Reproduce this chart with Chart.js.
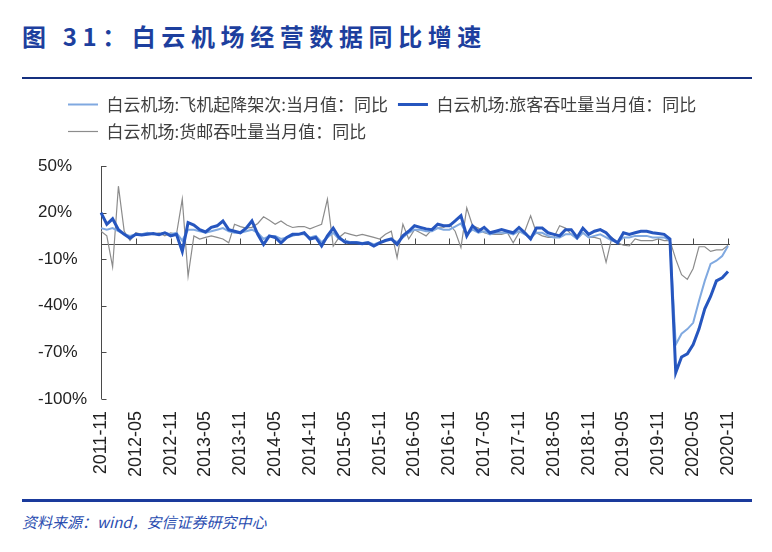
<!DOCTYPE html>
<html>
<head>
<meta charset="utf-8">
<script src="https://cdn.jsdelivr.net/npm/chart.js@4.4.1/dist/chart.umd.min.js"></script>
<style>
  body { margin: 0; background: #fff; width: 772px; height: 552px; position: relative; overflow: hidden; font-family: 'Noto Sans CJK SC', sans-serif; }
  .title { position: absolute; left: 22px; top: 20px; font-size: 24px; font-weight: bold; color: #1d3f9e; letter-spacing: 5.6px; white-space: nowrap; line-height: 32px; }
  .rule-top { position: absolute; left: 22px; top: 77px; width: 730px; height: 2px; background: #15307f; }
  .rule-bottom { position: absolute; left: 22px; top: 499px; width: 730px; height: 3px; background: #1a3a9c; }
  .source { position: absolute; left: 22px; top: 511px; font-size: 15px; font-style: italic; color: #2a4db0; line-height: 22px; white-space: nowrap; }
  #wrap { position: absolute; left: 0; top: 86px; width: 772px; height: 395px; }
</style>
</head>
<body>
<div class="title">图 31：白云机场经营数据同比增速</div>
<div class="rule-top"></div>
<div id="wrap"><canvas id="chart"></canvas></div>
<div class="rule-bottom"></div>
<div class="source">资料来源：wind，安信证券研究中心</div>

<script>
// monthly, 2011-11 .. 2020-11
const months = [];
for (let y = 2011, m = 11; y < 2020 || (y === 2020 && m <= 11); m++) {
  if (m > 12) { m = 1; y++; }
  months.push(y + '-' + String(m).padStart(2, '0'));
}

const seriesNames = [
  '白云机场:飞机起降架次:当月值：同比',
  '白云机场:旅客吞吐量当月值：同比',
  '白云机场:货邮吞吐量当月值：同比'
];

// 飞机起降架次 yoy (%)
const aircraft = [
  10, 9, 10, 8, 6, 5, 6, 6, 7, 6,
  6, 7, 6, 7, 2, 9, 9, 8, 7, 8,
  9, 10, 8, 7, 7, 8, 9, 7, 3, 5,
  5, 3, 4, 5, 6, 6, 4, 5, 1, 4,
  7, 3, 2, 1, 1, 0.5, 1, -0.5, 1, 2,
  3, 1, 4, 7, 9, 9, 8, 8, 10, 9,
  9, 11, 13, 6, 9, 7, 8, 6, 7, 7,
  7, 6, 8, 6, 4, 7, 7, 5, 4, 4,
  6, 6, 3, 7, 4, 5, 6, 4, 2, 1,
  4, 4, 5, 5, 5, 4, 4, 4, 2, -65,
  -58, -55, -51, -37, -24, -13, -11, -8, -1.5
];

// 旅客吞吐量 yoy (%)
const passenger = [
  20, 12.5, 16, 9, 6, 3.5, 6, 5.5, 6, 6.5,
  5.8, 7, 5, 6, -5, 13.5, 12, 9, 7.5, 10.5,
  11.5, 14.6, 9, 8, 7, 10, 14.6, 6, -0.5, 5,
  4, 0.5, 4, 6, 6, 7, 3, 4, -1.5, 5,
  10, 4, 1, 0.5, 0.5, 0, 0.5, -1.5, 0.5, 2,
  3, -0.5, 5, 8, 11.5, 10.5, 9.5, 9, 12.5, 11.5,
  11.5, 14.6, 18, 5, 11.5, 8, 10.5, 7, 8, 9,
  8, 7, 10.4, 7, 3, 10, 10, 7, 6, 5,
  9, 9, 4, 10, 6, 8, 9, 7, 3, 0.5,
  7, 6, 7, 8, 8, 7, 6.5, 6, 3, -83,
  -73, -71, -65, -55, -42, -34, -24, -22, -18
];

// 货邮吞吐量 yoy (%)
const cargo = [
  8, 5, -15, 37, 8, 2, 7, 6, 7, 6,
  7, 5, 7, 6, 28.7, -21, 5, 3, 4, 5,
  4, 3, 0.5, 12.5, 11, 10, 10.5, 13, 17.3, 15,
  12.5, 14.6, 12, 10.4, 11, 11, 9.5, 11, 12.5, 28.6,
  -1.5, 4, 7, 6, 5, 6, 5, 4, 3, 6,
  8, -9, 12.5, 3, 9, 7, 5, 9, 10, 10.4,
  12.5, 8, -2.5, 23, 11.5, 10, 7, 6, 6, 6,
  7, 0.5, 7, 8, 18, 7, 5, 4, 4, 11.5,
  10, 6, 3, 7, 4, 4, 3, -12, 4, 0.5,
  -1, -1.5, 3, 2, 2, 2, 3, 2, 2, -10,
  -20, -23, -16, -2, -2, -5, -4, -4, -1
];

// axis lines: y axis with inward ticks, x axis line at 0 with upward ticks
const axisLines = {
  id: 'axisLines',
  beforeDatasetsDraw(chart) {
    const { ctx, chartArea, scales: { x, y } } = chart;
    const y0 = Math.round(y.getPixelForValue(0)) + 0.5;
    const left = Math.round(chartArea.left) + 0.5;
    ctx.save();
    ctx.strokeStyle = '#4a4a4a';
    ctx.lineWidth = 1;
    ctx.beginPath();
    ctx.moveTo(left, chartArea.top);
    ctx.lineTo(left, chartArea.bottom);
    y.ticks.forEach(t => {
      const py = Math.round(y.getPixelForValue(t.value)) + 0.5;
      ctx.moveTo(left, py);
      ctx.lineTo(left + 5, py);
    });
    ctx.moveTo(left, y0);
    ctx.lineTo(chartArea.right + 2, y0);
    x.ticks.forEach((t, i) => {
      if (i % 6) return;
      const px = Math.round(x.getPixelForTick(i)) + 0.5;
      ctx.moveTo(px, y0);
      ctx.lineTo(px, y0 - 6);
    });
    ctx.stroke();
    ctx.restore();
  }
};

// extra room under the legend, and push it right of the y labels
const legendTweak = {
  id: 'legendTweak',
  beforeInit(chart) {
    const fit = chart.legend.fit;
    chart.legend.fit = function () {
      fit.call(this);
      this.height += 16;
    };
  },
  afterLayout(chart) {
    chart.legend.left += 20;
  }
};

const ctx = document.getElementById('chart').getContext('2d');
new Chart(ctx, {
  type: 'line',
  data: {
    labels: months,
    datasets: [
      {
        label: seriesNames[0],
        data: aircraft,
        borderColor: '#80a9e0',
        backgroundColor: '#80a9e0',
        borderWidth: 2,
        order: 1
      },
      {
        label: seriesNames[1],
        data: passenger,
        borderColor: '#2656bf',
        backgroundColor: '#2656bf',
        borderWidth: 3,
        order: 0
      },
      {
        label: seriesNames[2],
        data: cargo,
        borderColor: '#8c8c8c',
        backgroundColor: '#8c8c8c',
        borderWidth: 1.2,
        order: 2
      }
    ]
  },
  options: {
    responsive: true,
    maintainAspectRatio: false,
    animation: false,
    layout: { padding: { left: 38, right: 44, top: 0, bottom: 0 } },
    elements: {
      point: { radius: 0 },
      line: { tension: 0 }
    },
    plugins: {
      tooltip: { enabled: false },
      legend: {
        position: 'top',
        align: 'start',
        labels: {
          usePointStyle: true,
          pointStyle: 'line',
          pointStyleWidth: 30,
          padding: 10,
          color: '#404040',
          font: { family: "'Noto Sans CJK SC', sans-serif", size: 17 },
          sort: (a, b) => a.datasetIndex - b.datasetIndex
        }
      }
    },
    scales: {
      x: {
        grid: { display: false },
        border: { display: false },
        ticks: {
          autoSkip: false,
          maxRotation: 90,
          minRotation: 90,
          padding: 4,
          color: '#222',
          font: { family: "'Liberation Sans', Arial, sans-serif", size: 18 },
          callback: (v, i) => (i % 6 === 0 ? months[i] : '')
        }
      },
      y: {
        min: -100,
        max: 50,
        grid: { display: false },
        border: { display: false },
        afterFit: (scale) => { scale.width = 63; },
        ticks: {
          stepSize: 30,
          crossAlign: 'far',
          padding: 13,
          color: '#222',
          font: { family: "'Liberation Sans', Arial, sans-serif", size: 17 },
          callback: (v) => v + '%'
        }
      }
    }
  },
  plugins: [axisLines, legendTweak]
});
</script>
</body>
</html>
